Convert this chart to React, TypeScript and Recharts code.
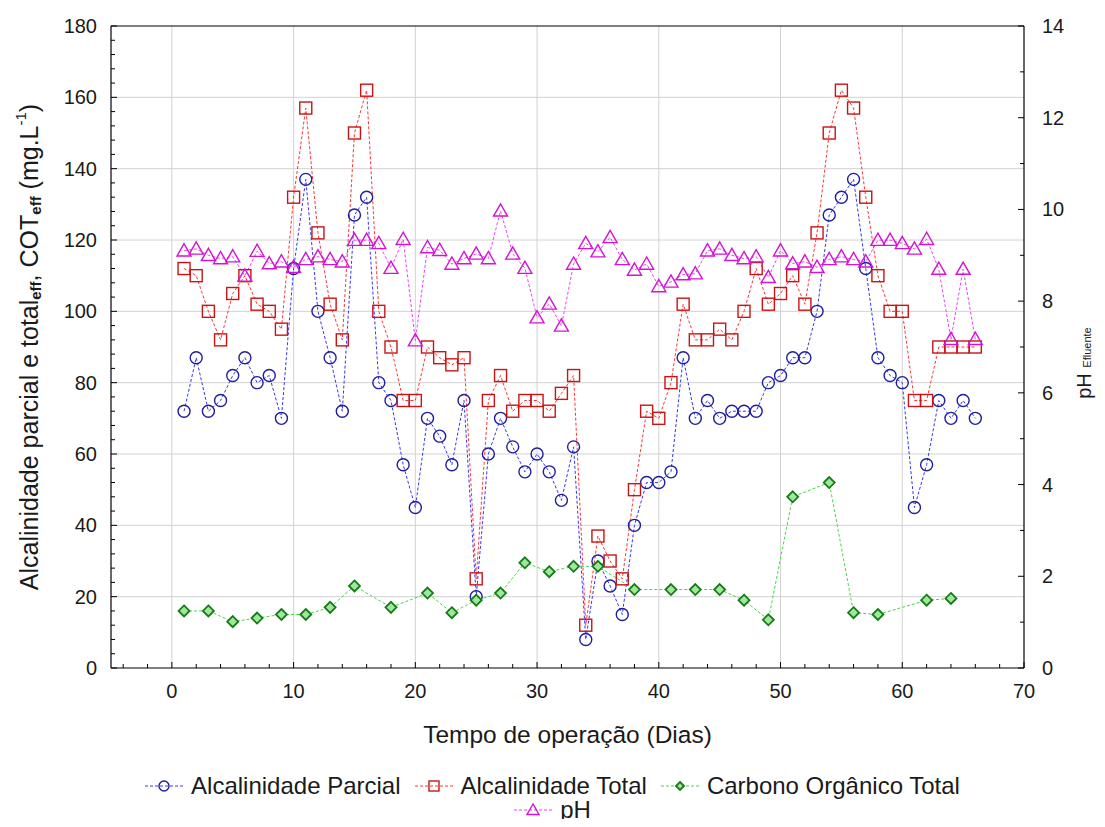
import React from 'react';
import { ComposedChart, Line, XAxis, YAxis, CartesianGrid, Legend, ReferenceLine } from 'recharts';

const FONT = '"Liberation Sans", Arial, sans-serif';
const TXT = '#1a1a1a';

const days = [1,2,3,4,5,6,7,8,9,10,11,12,13,14,15,16,17,18,19,20,21,22,23,24,25,26,27,28,29,30,31,32,33,34,35,36,37,38,39,40,41,42,43,44,45,46,47,48,49,50,51,52,53,54,55,56,57,58,59,60,61,62,63,64,65,66];
const alcParcial = [72,87,72,75,82,87,80,82,70,112,137,100,87,72,127,132,80,75,57,45,70,65,57,75,20,60,70,62,55,60,55,47,62,8,30,23,15,40,52,52,55,87,70,75,70,72,72,72,80,82,87,87,100,127,132,137,112,87,82,80,45,57,75,70,75,70];
const alcTotal = [112,110,100,92,105,110,102,100,95,132,157,122,102,92,150,162,100,90,75,75,90,87,85,87,25,75,82,72,75,75,72,77,82,12,37,30,25,50,72,70,80,102,92,92,95,92,100,112,102,105,110,102,122,150,162,157,132,110,100,100,75,75,90,90,90,90];
const phValues = [9.1,9.14,9.0,8.93,8.97,8.55,9.09,8.82,8.86,8.74,8.91,8.97,8.91,8.86,9.33,9.33,9.26,8.72,9.35,7.14,9.17,9.11,8.81,8.93,9.03,8.93,9.97,9.03,8.72,7.64,7.94,7.46,8.81,9.26,9.08,9.39,8.91,8.68,8.81,8.32,8.42,8.58,8.6,9.1,9.14,9.0,8.93,8.97,8.52,9.1,8.82,8.86,8.74,8.91,8.97,8.91,8.86,9.33,9.33,9.26,9.14,9.35,8.7,7.17,8.7,7.17];
const cotDays = [1,3,5,7,9,11,13,15,18,21,23,25,27,29,31,33,35,38,41,43,45,47,49,51,54,56,58,62,64];
const cotValues = [16,16,13,14,15,15,17,23,17,21,15.5,19,21,29.5,27,28.5,28.5,22,22,22,22,19,13.5,48,52,15.5,15,19,19.5];

const xMajorTicks = [0,10,20,30,40,50,60,70];
const leftMajorTicks = [0,20,40,60,80,100,120,140,160,180];
const rightMajorTicks = [0,2,4,6,8,10,12,14];

const seriesNames = ['Alcalinidade Parcial','Alcalinidade Total','Carbono Orgânico Total','pH'];

const parcialData = days.map((d, i) => ({ day: d, v: alcParcial[i] }));
const totalData = days.map((d, i) => ({ day: d, v: alcTotal[i] }));
const phData = days.map((d, i) => ({ day: d, v: phValues[i] }));
const cotData = cotDays.map((d, i) => ({ day: d, v: cotValues[i] }));

const range = (a: number, b: number, s: number) => { const r: number[] = []; for (let v = a; v <= b + 1e-9; v += s) r.push(Math.round(v * 100) / 100); return r; };
const xTicks = range(-4, 70, 2);
const leftTicks = range(0, 180, 4);
const rightTicks = range(0, 14, 1);

const C_BLUE_LINE = '#3434ff', C_BLUE = '#1e1e9e';
const C_RED_LINE = '#ff3434', C_RED = '#c81414';
const C_GREEN_LINE = '#45d845', C_GREEN = '#167a16', C_GREEN_FILL = '#9ee89e';
const C_MAG_LINE = '#f040f0', C_MAG = '#d414d4';

const circleDot = (r: number, stroke: string) => (p: any) => (
  <circle key={`c${p.index}`} cx={p.cx} cy={p.cy} r={r} fill="none" stroke={stroke} strokeWidth={1.4} />
);
const squareDot = (s: number, stroke: string) => (p: any) => (
  <rect key={`s${p.index}`} x={p.cx - s} y={p.cy - s} width={2 * s} height={2 * s} fill="none" stroke={stroke} strokeWidth={1.4} />
);
const triDot = (s: number, stroke: string) => (p: any) => (
  <polygon key={`t${p.index}`} points={`${p.cx},${p.cy - s} ${p.cx - s},${p.cy + s * 0.75} ${p.cx + s},${p.cy + s * 0.75}`} fill="none" stroke={stroke} strokeWidth={1.4} />
);
const diaDot = (s: number, stroke: string, fill: string) => (p: any) => (
  <polygon key={`d${p.index}`} points={`${p.cx},${p.cy - s} ${p.cx + s},${p.cy} ${p.cx},${p.cy + s} ${p.cx - s},${p.cy}`} fill={fill} stroke={stroke} strokeWidth={1.8} />
);

const XTick = (props: any) => {
  const { x, y, payload } = props;
  const v = payload.value;
  const major = xMajorTicks.includes(v);
  return (
    <g>
      <line x1={x} x2={x} y1={y} y2={y - (major ? 6 : 4)} stroke="#000" strokeWidth={1} />
      {major && (
        <text x={x} y={y + 23} textAnchor="middle" dominantBaseline="central" fontSize={20} fill={TXT} fontFamily={FONT}>{v}</text>
      )}
    </g>
  );
};

const LeftTick = (props: any) => {
  const { x, y, payload } = props;
  const v = payload.value;
  const major = leftMajorTicks.includes(v);
  return (
    <g>
      <line x1={x} x2={x + (major ? 6 : 4)} y1={y} y2={y} stroke="#000" strokeWidth={1} />
      {major && (
        <text x={x - 14} y={y} textAnchor="end" dominantBaseline="central" fontSize={20} fill={TXT} fontFamily={FONT}>{v}</text>
      )}
    </g>
  );
};

const RightTick = (props: any) => {
  const { x, y, payload } = props;
  const v = payload.value;
  const major = rightMajorTicks.includes(v);
  return (
    <g>
      <line x1={x} x2={x - (major ? 6 : 4)} y1={y} y2={y} stroke="#000" strokeWidth={1} />
      {major && (
        <text x={x + 18} y={y} textAnchor="start" dominantBaseline="central" fontSize={20} fill={TXT} fontFamily={FONT}>{v}</text>
      )}
    </g>
  );
};

const LeftTitle = (props: any) => {
  const vb = props.viewBox || { x: 0, y: 18, width: 103, height: 642 };
  const cx = vb.x + 21;
  const cy = vb.y + vb.height / 2;
  return (
    <text transform={`translate(${cx},${cy}) rotate(-90)`} textAnchor="middle" dominantBaseline="central" fontSize={25} fill={TXT} fontFamily={FONT}>
      <tspan>Alcalinidade parcial e total</tspan>
      <tspan fontSize={15} fontWeight="bold" dy={6}>eff</tspan>
      <tspan dy={-6}>, COT</tspan>
      <tspan fontSize={15} fontWeight="bold" dy={6}>eff</tspan>
      <tspan dy={-6}> (mg.L</tspan>
      <tspan fontSize={15} dy={-9}>-1</tspan>
      <tspan dy={9}>)</tspan>
    </text>
  );
};

const RightTitle = (props: any) => {
  const vb = props.viewBox || { x: 1016, y: 18, width: 73, height: 642 };
  const cx = vb.x + vb.width - 13;
  const cy = vb.y + vb.height / 2 + 16;
  return (
    <text transform={`translate(${cx},${cy}) rotate(-90)`} textAnchor="middle" dominantBaseline="central" fontSize={20} fill={TXT} fontFamily={FONT}>
      <tspan>pH </tspan>
      <tspan fontSize={11} dy={3}>Efluente</tspan>
    </text>
  );
};

const XTitle = (props: any) => {
  const vb = props.viewBox || { x: 103, y: 660, width: 913, height: 90 };
  return (
    <text x={vb.x + vb.width / 2} y={vb.y + 66} textAnchor="middle" dominantBaseline="central" fontSize={24.5} fill={TXT} fontFamily={FONT}>
      Tempo de operação (Dias)
    </text>
  );
};

const LegendIcon = ({ kind }: { kind: number }) => {
  const line = [C_BLUE_LINE, C_RED_LINE, C_GREEN_LINE, C_MAG_LINE][kind];
  const p = { cx: 19, cy: 11, index: 0 };
  let m: any;
  if (kind === 0) m = circleDot(5, C_BLUE)(p);
  else if (kind === 1) m = squareDot(5, C_RED)(p);
  else if (kind === 2) m = diaDot(4, C_GREEN, C_GREEN_FILL)(p);
  else m = triDot(6, C_MAG)(p);
  return (
    <svg width={38} height={22} style={{ display: 'block' }}>
      <line x1={0} x2={38} y1={11} y2={11} stroke={line} strokeWidth={1} strokeDasharray="3 2" />
      {m}
    </svg>
  );
};

const LegendItem = ({ kind }: { kind: number }) => (
  <div style={{ display: 'flex', alignItems: 'center', margin: '0 7px', height: 24 }}>
    <LegendIcon kind={kind} />
    <span style={{ marginLeft: 8 }}>{seriesNames[kind]}</span>
  </div>
);

const LegendContent = () => (
  <div style={{ fontFamily: FONT, fontSize: 24, color: TXT, lineHeight: '24px' }}>
    <div style={{ display: 'flex', justifyContent: 'center' }}>
      <LegendItem kind={0} />
      <LegendItem kind={1} />
      <LegendItem kind={2} />
    </div>
    <div style={{ display: 'flex', justifyContent: 'center' }}>
      <LegendItem kind={3} />
    </div>
  </div>
);

export default function App() {
  return (
    <div style={{ width: 1089, height: 811 }}>
      <ComposedChart width={1089} height={811} margin={{ top: 18, right: 0, bottom: 61, left: 0 }}>
        <CartesianGrid
          yAxisId="left"
          stroke="#d2d2d2"
          strokeWidth={1}
          horizontalValues={[20,40,60,80,100,120,140,160]}
          verticalValues={[0,10,20,30,40,50,60]}
        />
        <XAxis
          type="number"
          dataKey="day"
          domain={[-5, 70]}
          ticks={xTicks}
          interval={0}
          allowDataOverflow
          tickSize={0}
          tickMargin={0}
          tick={<XTick />}
          axisLine={{ stroke: '#000', strokeWidth: 1.2 }}
          tickLine={false}
          height={90}
          label={<XTitle />}
        />
        <YAxis
          yAxisId="left"
          type="number"
          domain={[0, 180]}
          ticks={leftTicks}
          interval={0}
          allowDataOverflow
          tickSize={0}
          tickMargin={0}
          tick={<LeftTick />}
          tickLine={false}
          axisLine={{ stroke: '#000', strokeWidth: 1.2 }}
          width={103}
          label={<LeftTitle />}
        />
        <YAxis
          yAxisId="right"
          orientation="right"
          type="number"
          domain={[0, 14]}
          ticks={rightTicks}
          interval={0}
          allowDataOverflow
          tickSize={0}
          tickMargin={0}
          tick={<RightTick />}
          tickLine={false}
          axisLine={{ stroke: '#000', strokeWidth: 1.2 }}
          width={73}
          label={<RightTitle />}
        />
        <ReferenceLine yAxisId="left" y={180} stroke="#000" strokeWidth={1.2} />
        <Legend
          layout="vertical"
          align="center"
          verticalAlign="middle"
          content={<LegendContent />}
          wrapperStyle={{ position: 'absolute', top: 766, left: 0, width: 1089, height: 48 }}
        />
        <Line
          yAxisId="left"
          data={parcialData}
          dataKey="v"
          name={seriesNames[0]}
          stroke={C_BLUE_LINE}
          strokeWidth={1}
          strokeDasharray="3 2"
          dot={circleDot(6, C_BLUE)}
          activeDot={false}
          isAnimationActive={false}
        />
        <Line
          yAxisId="left"
          data={totalData}
          dataKey="v"
          name={seriesNames[1]}
          stroke={C_RED_LINE}
          strokeWidth={1}
          strokeDasharray="3 2"
          dot={squareDot(6, C_RED)}
          activeDot={false}
          isAnimationActive={false}
        />
        <Line
          yAxisId="left"
          data={cotData}
          dataKey="v"
          name={seriesNames[2]}
          stroke={C_GREEN_LINE}
          strokeWidth={1}
          strokeDasharray="3 2"
          dot={diaDot(5.5, C_GREEN, C_GREEN_FILL)}
          activeDot={false}
          isAnimationActive={false}
        />
        <Line
          yAxisId="right"
          data={phData}
          dataKey="v"
          name={seriesNames[3]}
          stroke={C_MAG_LINE}
          strokeWidth={1}
          strokeDasharray="3 2"
          dot={triDot(7, C_MAG)}
          activeDot={false}
          isAnimationActive={false}
        />
      </ComposedChart>
    </div>
  );
}
